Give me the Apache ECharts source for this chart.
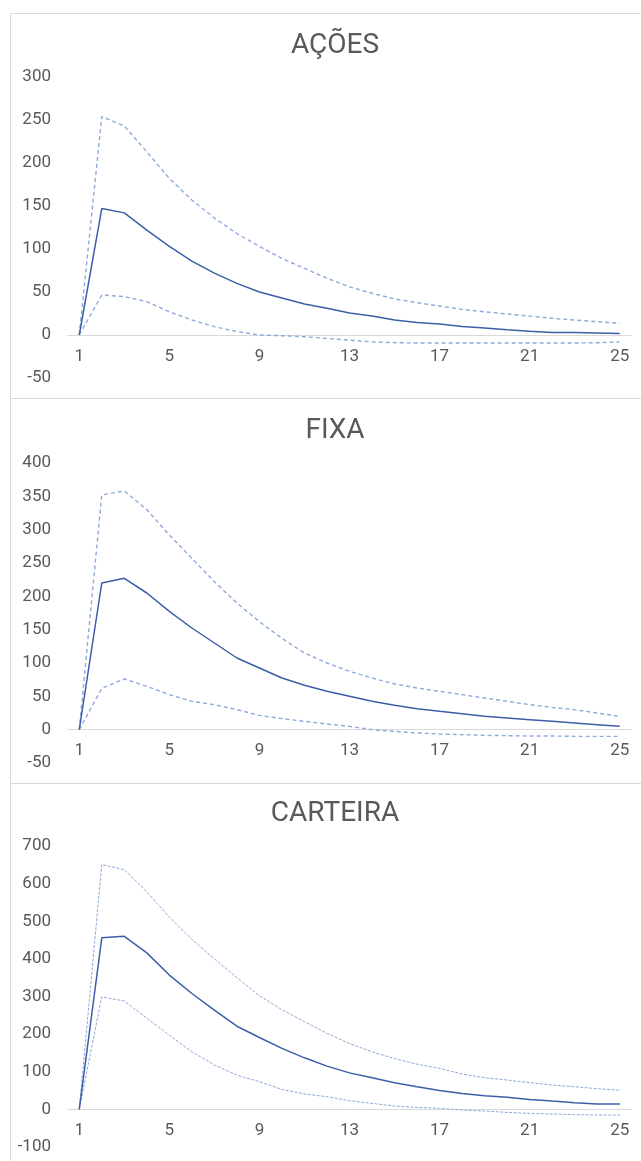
<!DOCTYPE html>
<html>
<head>
<meta charset="utf-8">
<script src="https://cdn.jsdelivr.net/npm/echarts@6/dist/echarts.min.js"></script>
<style>
html,body{margin:0;padding:0;background:#fff;}
#c{width:641px;height:1161px;}
</style>
</head>
<body>
<div id="c"></div>
<script>
var periods = [];
for (var i = 1; i <= 25; i++) periods.push(String(i));

var titles = ['AÇÕES', 'FIXA', 'CARTEIRA'];

var acoesMid = [0,147,142,122,103,86,72,60,50,43,36,31,25.5,22,17.5,14.5,12.8,9.8,8,6,4.4,3,3,2.3,1.6];
var acoesUp  = [0,254,243,213,182,157,136,118,103,89,77.5,66,56,48.5,42,37.6,33.7,29.8,27,24.4,22,19.4,17.4,15.5,13.6];
var acoesLow = [0,46.5,44.6,38.7,27,17.4,9.7,4,0,-0.8,-2,-4,-6,-8,-8.9,-9.3,-9.3,-9.3,-9.3,-9.3,-9.3,-9.3,-9.3,-9,-8];

var fixaMid = [0,220,227,205,177.5,152.5,130,107.5,92.5,77.5,66.5,57.5,50,42.5,36.5,31.5,27.5,24,20,17.5,15,12.5,10,7.5,5];
var fixaUp  = [0,352,358,330,292,257,222,190,162,137,115,100,87.5,77.5,68.5,62.5,57.5,52.5,47.5,42.5,37.5,33.5,30,25,20];
var fixaLow = [0,62,76,65,52.5,42.5,37.5,30,21.5,16.5,12.5,8.5,5,0,-2.5,-5,-6.5,-7.5,-8.5,-9,-9.5,-9.5,-10,-10,-10];

var cartMid = [0,456,460,416,357,308,264,221,191,162,137,115,97,84,71,60,50,42.5,36,32,26.5,22,17.7,14,14];
var cartUp  = [0,651,637,578,511,452,400,350,302,265,233,202,175,153,135,120,109,94,84,78,71,64.6,60,55,51];
var cartLow = [0,299,288,242,197,153,118,91,73.5,53,41,33.6,23,16,8.8,5.3,2.7,-1.8,-4.4,-8,-10.6,-12.4,-14,-15,-15];

var yMins = [-50, -50, -100];
var yMaxs = [300, 400, 700];
var yIntervals = [50, 50, 100];

var mids = [acoesMid, fixaMid, cartMid];
var ups = [acoesUp, fixaUp, cartUp];
var lows = [acoesLow, fixaLow, cartLow];

var gridTops = [77, 463, 846];
var gridHeights = [301, 300, 301];
var titleTops = [27, 412, 795];
var panelTops = [13, 398, 783];
var panelHeights = [385, 385, 400];

var textColor = '#595959';
var font = 'Roboto, "Liberation Sans", Arial, sans-serif';

var option = {
  animation: false,
  backgroundColor: '#fff',
  title: [],
  grid: [],
  xAxis: [],
  yAxis: [],
  series: [],
  graphic: []
};

for (var k = 0; k < 3; k++) {
  option.graphic.push({
    type: 'rect',
    silent: true,
    shape: { x: 10.5, y: panelTops[k] + 0.5, width: 700, height: panelHeights[k] },
    style: { fill: 'none', stroke: '#d9d9d9', lineWidth: 1 }
  });
  option.title.push({
    text: titles[k],
    left: 330,
    textAlign: 'center',
    top: titleTops[k],
    textStyle: { color: textColor, fontSize: 28, fontWeight: 'normal', fontFamily: font }
  });
  option.grid.push({ left: 68, right: 10, top: gridTops[k], height: gridHeights[k] });
  // place the category axis at value 0 of the value axis
  var zeroOffset = -gridHeights[k] * (0 - yMins[k]) / (yMaxs[k] - yMins[k]);
  option.xAxis.push({
    type: 'category',
    gridIndex: k,
    data: periods,
    boundaryGap: true,
    position: 'bottom',
    offset: zeroOffset,
    axisLine: { onZero: false, lineStyle: { color: '#d9d9d9', width: 1 } },
    axisTick: { show: false },
    axisLabel: { interval: 3, color: textColor, fontSize: 17, fontFamily: font, margin: 13 },
    splitLine: { show: false }
  });
  option.yAxis.push({
    type: 'value',
    gridIndex: k,
    min: yMins[k],
    max: yMaxs[k],
    interval: yIntervals[k],
    axisLine: { show: false },
    axisTick: { show: false },
    splitLine: { show: false },
    axisLabel: { color: textColor, fontSize: 17, fontFamily: font, margin: 17 }
  });
  var dash = k === 2 ? [3, 1.5] : [4, 3];
  var dw = k === 2 ? 1 : 1.4;
  option.series.push({
    type: 'line', xAxisIndex: k, yAxisIndex: k, data: ups[k], symbol: 'none',
    lineStyle: { color: '#8eaadb', width: dw, type: dash }
  });
  option.series.push({
    type: 'line', xAxisIndex: k, yAxisIndex: k, data: lows[k], symbol: 'none',
    lineStyle: { color: '#8eaadb', width: dw, type: dash }
  });
  option.series.push({
    type: 'line', xAxisIndex: k, yAxisIndex: k, data: mids[k], symbol: 'none',
    lineStyle: { color: '#3c5ea8', width: 1.5 }
  });
}

var chart = echarts.init(document.getElementById('c'), null, { renderer: 'canvas' });
chart.setOption(option);
</script>
</body>
</html>
